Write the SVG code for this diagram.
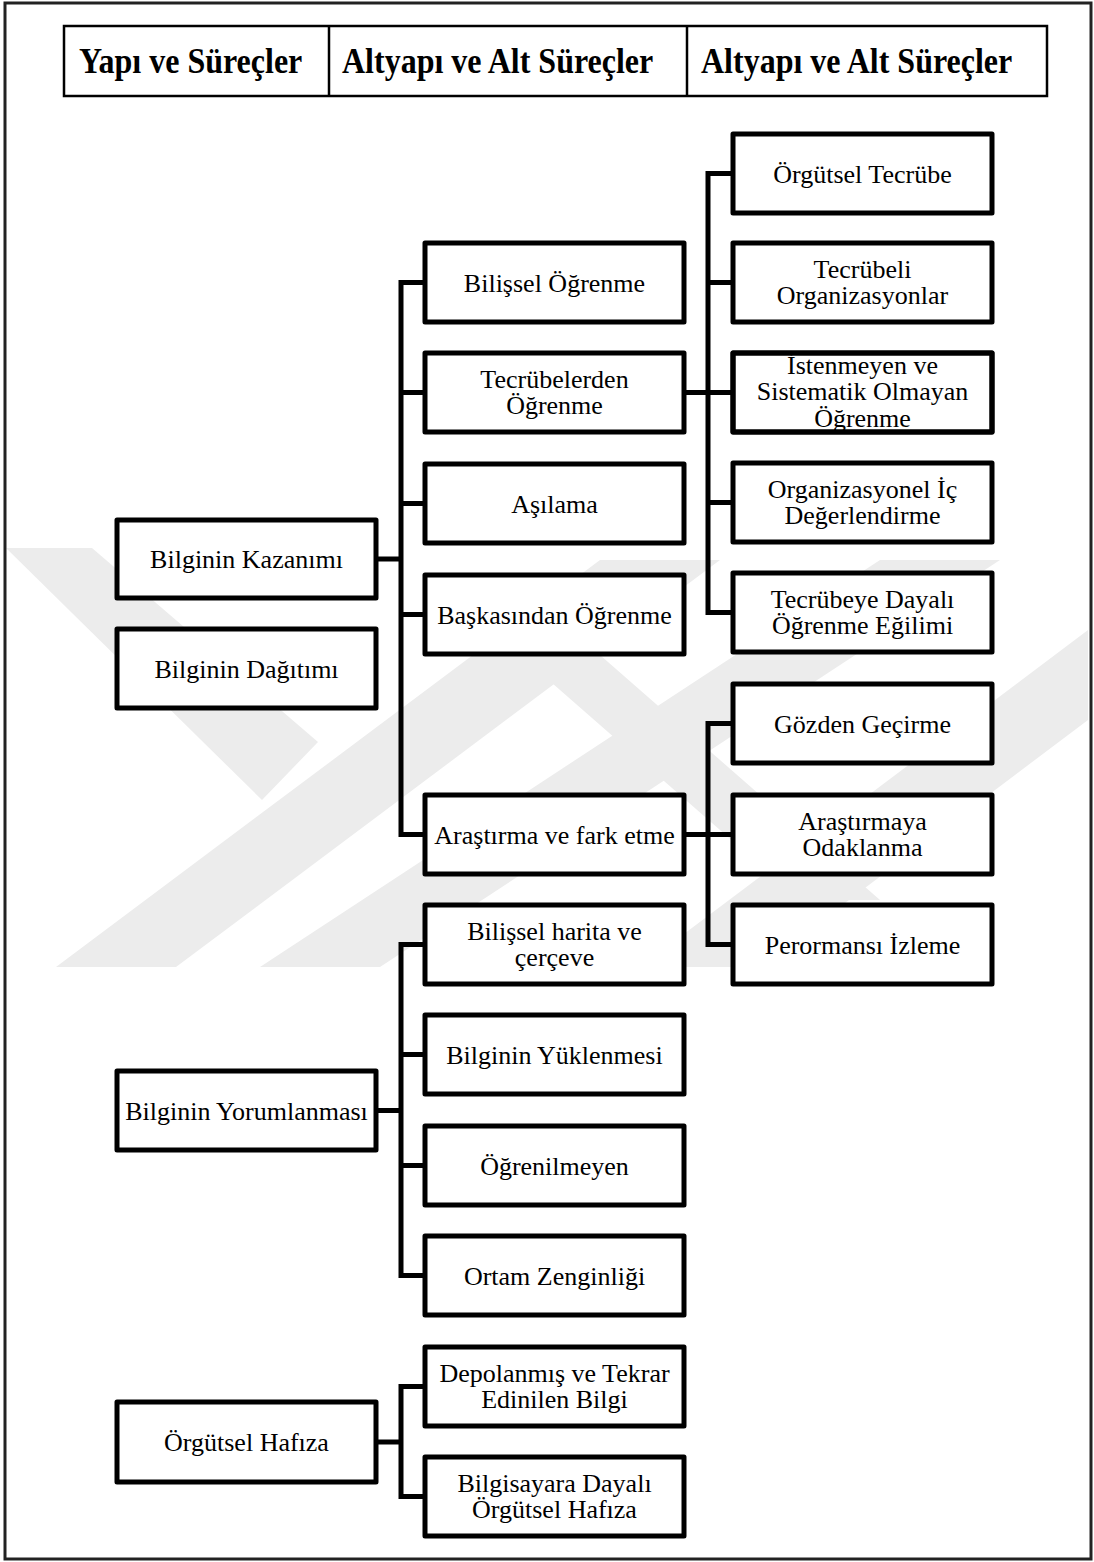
<svg xmlns="http://www.w3.org/2000/svg" width="1094" height="1562" viewBox="0 0 1094 1562">
  <style>
    .frame { fill: none; stroke: #222; stroke-width: 3; }
    .head { fill: none; stroke: #000; stroke-width: 2.5; }
    .htxt { font-family: "Liberation Serif", "Times New Roman", serif; font-weight: bold; font-size: 32px; fill: #000; }
    .box { fill: #fff; stroke: #000; stroke-width: 5; stroke-linejoin: round; }
    .bd { fill: none; stroke: #000; stroke-width: 5; stroke-linejoin: round; }
    .t { font-family: "Liberation Serif", "Times New Roman", serif; font-size: 26px; fill: #000; text-anchor: middle; }
    .wire { fill: none; stroke: #000; stroke-width: 5; stroke-linejoin: miter; stroke-linecap: butt; }
    .wm { fill: #ececec; }
  </style>

  <rect width="1094" height="1562" fill="#fff"/>

  <!-- faint background emblem -->
  <g id="emblem">
    <polygon class="wm" points="6,548 92,548 318,742 262,800"/>
    <polygon class="wm" points="56,967 176,967 720,560 600,560"/>
    <polygon class="wm" points="260,967 380,967 1000,560 880,560"/>
    <polygon class="wm" points="480,620 560,620 880,900 800,900"/>
    <polygon class="wm" points="640,967 760,967 1088,720 1088,630"/>
  </g>

  <!-- page frame -->
  <rect class="frame" x="5" y="3" width="1086" height="1556"/>

  <!-- column headings -->
  <g id="header">
    <rect class="head" x="64" y="26" width="983" height="70"/>
    <line class="head" x1="329" y1="26" x2="329" y2="96"/>
    <line class="head" x1="687" y1="26" x2="687" y2="96"/>
    <text class="htxt" transform="translate(79,73) scale(1,1.1)">Yapı ve Süreçler</text>
    <text class="htxt" transform="translate(342,73) scale(1,1.1)">Altyapı ve Alt Süreçler</text>
    <text class="htxt" transform="translate(701,73) scale(1,1.1)">Altyapı ve Alt Süreçler</text>
  </g>

  <!-- connectors -->
  <g id="connectors">
    <path class="wire" d="M425,282.5 H401 V834.5 H425"/>
    <path class="wire" d="M376,559 H401"/>
    <path class="wire" d="M401,392.5 H425 M401,503.5 H425 M401,614.5 H425"/>

    <path class="wire" d="M733,173.5 H708 V612.5 H733"/>
    <path class="wire" d="M684,392.5 H733"/>
    <path class="wire" d="M708,282.5 H733 M708,502.5 H733"/>

    <path class="wire" d="M733,723.5 H708 V944.5 H733"/>
    <path class="wire" d="M684,834.5 H733"/>

    <path class="wire" d="M425,944.5 H401 V1275.5 H425"/>
    <path class="wire" d="M376,1110.5 H401"/>
    <path class="wire" d="M401,1054.5 H425 M401,1165.5 H425"/>

    <path class="wire" d="M425,1386.5 H401 V1496.5 H425"/>
    <path class="wire" d="M376,1442 H401"/>
  </g>

  <!-- first level -->
  <g id="kazanim"><rect class="box" x="117" y="520" width="259" height="78"/><text class="t" x="246.5" y="568">Bilginin Kazanımı</text></g>
  <g id="dagitim"><rect class="box" x="117" y="629" width="259" height="79"/><text class="t" x="246.5" y="677.5">Bilginin Dağıtımı</text></g>
  <g id="yorumlama"><rect class="box" x="117" y="1071" width="259" height="79"/><text class="t" x="246.5" y="1119.5">Bilginin Yorumlanması</text></g>
  <g id="hafiza"><rect class="box" x="117" y="1402" width="259" height="80"/><text class="t" x="246.5" y="1451">Örgütsel Hafıza</text></g>

  <!-- second level -->
  <g id="bilissel"><rect class="box" x="425" y="243" width="259" height="79"/><text class="t" x="554.5" y="291.5">Bilişsel Öğrenme</text></g>
  <g id="tecrubelerden"><rect class="box" x="425" y="353" width="259" height="79"/><text class="t" x="554.5" y="387.5">Tecrübelerden<tspan x="554.5" dy="26.5">Öğrenme</tspan></text></g>
  <g id="asilama"><rect class="box" x="425" y="464" width="259" height="79"/><text class="t" x="554.5" y="512.5">Aşılama</text></g>
  <g id="baskasindan"><rect class="box" x="425" y="575" width="259" height="79"/><text class="t" x="554.5" y="623.5">Başkasından Öğrenme</text></g>
  <g id="arastirma"><rect class="box" x="425" y="795" width="259" height="79"/><text class="t" x="554.5" y="843.5">Araştırma ve fark etme</text></g>
  <g id="harita"><rect class="box" x="425" y="905" width="259" height="79"/><text class="t" x="554.5" y="939.5">Bilişsel harita ve<tspan x="554.5" dy="26.5">çerçeve</tspan></text></g>
  <g id="yuklenme"><rect class="box" x="425" y="1015" width="259" height="79"/><text class="t" x="554.5" y="1063.5">Bilginin Yüklenmesi</text></g>
  <g id="ogrenilmeyen"><rect class="box" x="425" y="1126" width="259" height="79"/><text class="t" x="554.5" y="1174.5">Öğrenilmeyen</text></g>
  <g id="ortam"><rect class="box" x="425" y="1236" width="259" height="79"/><text class="t" x="554.5" y="1284.5">Ortam Zenginliği</text></g>
  <g id="depolanmis"><rect class="box" x="425" y="1347" width="259" height="79"/><text class="t" x="554.5" y="1381.5">Depolanmış ve Tekrar<tspan x="554.5" dy="26.5">Edinilen Bilgi</tspan></text></g>
  <g id="bilgisayar"><rect class="box" x="425" y="1457" width="259" height="79"/><text class="t" x="554.5" y="1491.5">Bilgisayara Dayalı<tspan x="554.5" dy="26.5">Örgütsel Hafıza</tspan></text></g>

  <!-- third level -->
  <g id="orgutsel-tecrube"><rect class="box" x="733" y="134" width="259" height="79"/><text class="t" x="862.5" y="182.5">Örgütsel Tecrübe</text></g>
  <g id="tecrubeli"><rect class="box" x="733" y="243" width="259" height="79"/><text class="t" x="862.5" y="277.5">Tecrübeli<tspan x="862.5" dy="26.5">Organizasyonlar</tspan></text></g>
  <g id="istenmeyen"><rect class="box" x="733" y="353" width="259" height="79"/><text class="t" x="862.5" y="373.5">İstenmeyen ve<tspan x="862.5" dy="26.5">Sistematik Olmayan</tspan><tspan x="862.5" dy="26.5">Öğrenme</tspan></text><rect class="bd" x="733" y="353" width="259" height="79"/></g>
  <g id="ic-degerlendirme"><rect class="box" x="733" y="463" width="259" height="79"/><text class="t" x="862.5" y="497.5">Organizasyonel İç<tspan x="862.5" dy="26.5">Değerlendirme</tspan></text></g>
  <g id="egilim"><rect class="box" x="733" y="573" width="259" height="79"/><text class="t" x="862.5" y="607.5">Tecrübeye Dayalı<tspan x="862.5" dy="26.5">Öğrenme Eğilimi</tspan></text></g>
  <g id="gozden"><rect class="box" x="733" y="684" width="259" height="79"/><text class="t" x="862.5" y="732.5">Gözden Geçirme</text></g>
  <g id="odaklanma"><rect class="box" x="733" y="795" width="259" height="79"/><text class="t" x="862.5" y="829.5">Araştırmaya<tspan x="862.5" dy="26.5">Odaklanma</tspan></text></g>
  <g id="izleme"><rect class="box" x="733" y="905" width="259" height="79"/><text class="t" x="862.5" y="953.5">Perormansı İzleme</text></g>
</svg>
